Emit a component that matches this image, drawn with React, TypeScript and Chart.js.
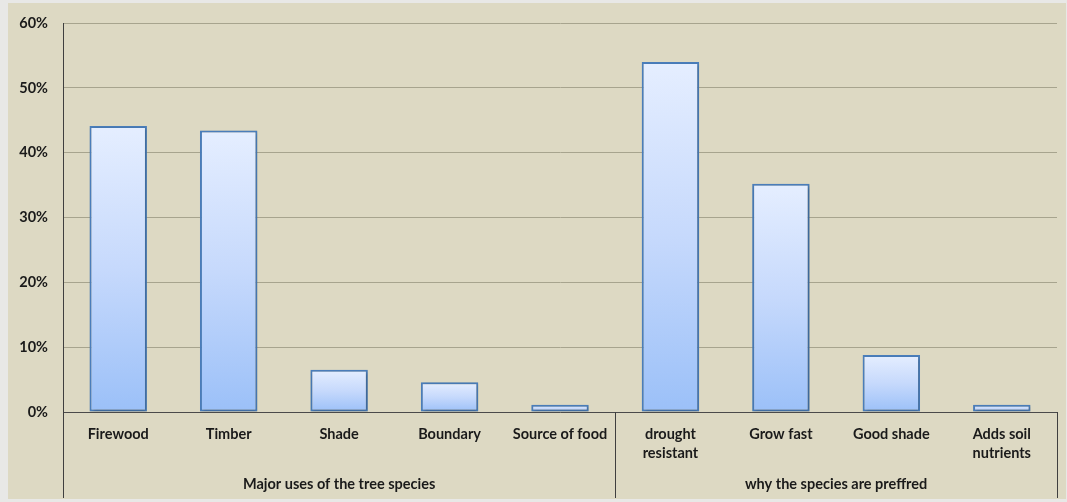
import React, { useEffect, useRef } from "react";
import { Chart, registerables } from "chart.js";

Chart.register(...registerables);

// Share of respondents (%) per answer
const categories: (string | string[])[] = [
  "Firewood",
  "Timber",
  "Shade",
  "Boundary",
  "Source of food",
  ["drought", "resistant"],
  "Grow fast",
  "Good shade",
  ["Adds soil", "nutrients"],
];
const values = [44.1, 43.4, 6.5, 4.6, 1.1, 54.0, 35.2, 8.8, 1.1];

// Category groups: label, first index, last index
const groupLabels = ["Major uses of the tree species", "why the species are preffred"];
const groupStarts = [0, 5];
const groupEnds = [4, 8];

const yTicksMax = 60;
const yTickStep = 10;

const FONT = "Lato, 'Open Sans', 'DejaVu Sans', sans-serif";
const FONT_SIZE = 14.5;

const groupPlugin = {
  id: "groupAxis",
  afterDraw(chart: any) {
    const { ctx, scales, chartArea } = chart;
    const x = scales.x;
    const bottom = chart.height - 1;
    ctx.save();
    ctx.strokeStyle = "#3f3f3f";
    ctx.lineWidth = 1;
    const edges = [groupStarts[0] - 0.5, ...groupEnds.map((e) => e + 0.5)];
    edges.forEach((v) => {
      const px = Math.round(x.getPixelForValue(v)) + 0.5;
      ctx.beginPath();
      ctx.moveTo(px, chartArea.bottom);
      ctx.lineTo(px, bottom);
      ctx.stroke();
    });
    ctx.fillStyle = "#1a1a1a";
    ctx.font = `bold ${FONT_SIZE}px ${FONT}`;
    ctx.textAlign = "center";
    ctx.textBaseline = "middle";
    groupLabels.forEach((lab, i) => {
      const l = x.getPixelForValue(groupStarts[i] - 0.5);
      const r = x.getPixelForValue(groupEnds[i] + 0.5);
      ctx.fillText(lab, (l + r) / 2, 481);
    });
    ctx.restore();
  },
};

const shadowPlugin = {
  id: "barShadow",
  beforeDatasetsDraw(chart: any) {
    const c = chart.ctx;
    c.save();
    c.shadowColor = "rgba(0,0,0,0.28)";
    c.shadowBlur = 3;
    c.shadowOffsetX = 1;
    c.shadowOffsetY = 1;
  },
  afterDatasetsDraw(chart: any) {
    chart.ctx.restore();
  },
};

export default function App() {
  const ref = useRef<HTMLCanvasElement>(null);

  useEffect(() => {
    if (!ref.current) return;
    const chart = new Chart(ref.current, {
      type: "bar",
      data: {
        labels: categories,
        datasets: [
          {
            data: values,
            backgroundColor: (c: any) => {
              const ch = c.chart;
              const y = ch.scales && ch.scales.y;
              if (!y || typeof c.raw !== "number") return "#bcd4fb";
              const top = y.getPixelForValue(c.raw);
              const base = y.getPixelForValue(0);
              if (!Number.isFinite(top) || !Number.isFinite(base) || top === base) return "#bcd4fb";
              const g = ch.ctx.createLinearGradient(0, top, 0, base);
              g.addColorStop(0, "#e5eeff");
              g.addColorStop(0.5, "#c6d9fc");
              g.addColorStop(1, "#9bc0f8");
              return g;
            },
            borderColor: "#4a7ebb",
            borderWidth: 2,
            borderSkipped: false,
            barPercentage: 0.52,
            categoryPercentage: 1,
          },
        ],
      },
      options: {
        animation: false,
        responsive: false,
        maintainAspectRatio: false,
        layout: { padding: { top: 20, right: 9, left: 0, bottom: 0 } },
        plugins: { legend: { display: false }, tooltip: { enabled: false } },
        scales: {
          x: {
            grid: { display: false, drawTicks: false },
            border: { display: true, color: "#4a4a4a", width: 1 },
            ticks: {
              color: "#1a1a1a",
              font: { family: FONT, size: FONT_SIZE, weight: "bold", lineHeight: 1.3 },
              padding: 13,
              maxRotation: 0,
              autoSkip: false,
            },
            afterFit: (s: any) => {
              s.height = 87;
            },
          },
          y: {
            min: 0,
            max: yTicksMax,
            grid: { color: "#a7a48e", lineWidth: 1, drawTicks: false },
            border: { display: true, color: "#3f3f3f", width: 1 },
            ticks: {
              stepSize: yTickStep,
              color: "#1a1a1a",
              font: { family: FONT, size: FONT_SIZE, weight: "bold" },
              padding: 15,
              callback: (v: any) => `${v}%`,
            },
            afterFit: (s: any) => {
              s.width = 55;
              s.paddingTop = 0;
              s.paddingBottom = 0;
            },
          },
        },
      },
      plugins: [shadowPlugin, groupPlugin],
    });
    return () => chart.destroy();
  }, []);

  return (
    <div
      style={{
        position: "fixed",
        left: 0,
        top: 0,
        width: 1067,
        height: 502,
        background: "#e8e8e6",
      }}
    >
      <div
        style={{
          position: "absolute",
          left: 8,
          top: 3,
          width: 1058,
          height: 496,
          background: "#ddd9c3",
        }}
      >
        <canvas ref={ref} width={1058} height={496} style={{ display: "block" }} />
      </div>
    </div>
  );
}
